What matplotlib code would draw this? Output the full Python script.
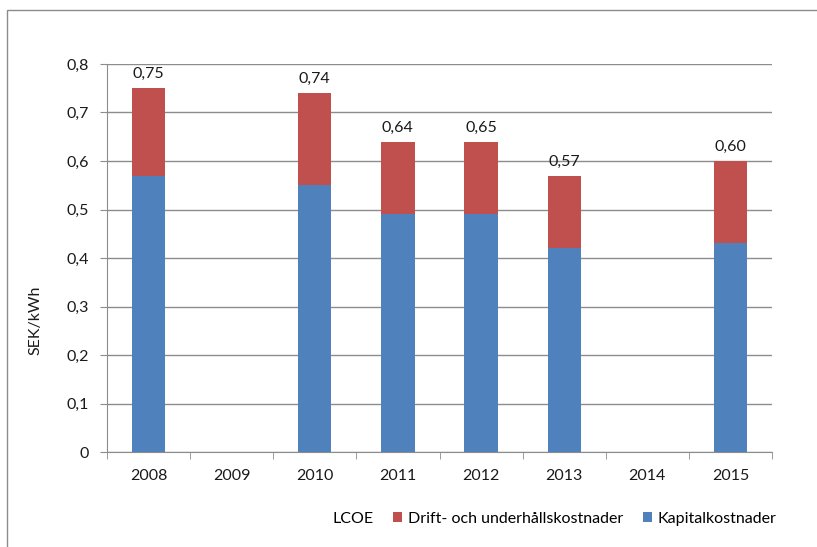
import numpy as np
import matplotlib
matplotlib.use("Agg")
import matplotlib.pyplot as plt
from matplotlib.patches import Patch, Rectangle

plt.rcParams['font.family'] = ['Lato', 'DejaVu Sans']

years = ['2008', '2009', '2010', '2011', '2012', '2013', '2014', '2015']
kapital = [0.57, 0, 0.55, 0.49, 0.49, 0.42, 0, 0.43]
drift = [0.18, 0, 0.19, 0.15, 0.15, 0.15, 0, 0.17]
lcoe_labels = ['0,75', '', '0,74', '0,64', '0,65', '0,57', '', '0,60']

blue = '#4F81BD'
red = '#C0504D'
fs = 11.5

fig = plt.figure(figsize=(8.17, 5.47), dpi=100)
ax = fig.add_axes([107/817, 1 - 452/547, 665/817, 388/547])

# outer chart border (top and left visible)
fig.patches.append(Rectangle((7/817, -0.1), 1.2, 1 - 10/547 + 0.1, transform=fig.transFigure,
                             fill=False, edgecolor='#8c8c8c', linewidth=1.0))

x = np.arange(len(years))
w = 0.4
ax.bar(x, kapital, w, color=blue, zorder=3)
ax.bar(x, drift, w, bottom=kapital, color=red, zorder=3)

for xi, k, d, lab in zip(x, kapital, drift, lcoe_labels):
    if lab:
        ax.annotate(lab, (xi, k + d), xytext=(0, 5), textcoords='offset points',
                    ha='center', va='bottom', fontsize=fs, color='#1a1a1a')

ax.set_xlim(-0.5, len(years) - 0.5)
ax.set_ylim(0, 0.8)
yt = np.arange(0, 0.81, 0.1)
ax.set_yticks(yt)
ax.set_yticklabels(['0'] + [('%.1f' % v).replace('.', ',') for v in yt[1:]])
ax.set_xticks(x)
ax.set_xticklabels(years)
ax.set_xticks(np.arange(-0.5, len(years), 1), minor=True)

ax.grid(axis='y', color='#8c8c8c', linewidth=1.0, zorder=0)
for s in ['top', 'right']:
    ax.spines[s].set_visible(False)
ax.spines['left'].set_color('#8c8c8c')
ax.spines['bottom'].set_color('#8c8c8c')
ax.tick_params(axis='x', which='major', length=0, pad=12, labelsize=fs, labelcolor='#1a1a1a')
ax.tick_params(axis='x', which='minor', length=5, color='#8c8c8c', direction='out')
ax.tick_params(axis='y', length=5, color='#8c8c8c', pad=8, labelsize=fs, labelcolor='#1a1a1a')

ax.set_ylabel('SEK/kWh', fontsize=fs, color='#1a1a1a', va='center')
ax.yaxis.set_label_coords(-0.108, 0.34)

handles = [Patch(facecolor='none', edgecolor='none'),
           Patch(facecolor=red), Patch(facecolor=blue)]
labels = ['LCOE', 'Drift- och underhållskostnader', 'Kapitalkostnader']
leg = fig.legend(handles, labels, loc='center', bbox_to_anchor=(547/817, 1 - 519/547),
                 ncol=3, frameon=False, fontsize=fs, handlelength=0.6, handleheight=0.6,
                 handletextpad=0.35, columnspacing=1.2)

fig.savefig('out.png', dpi=100)
